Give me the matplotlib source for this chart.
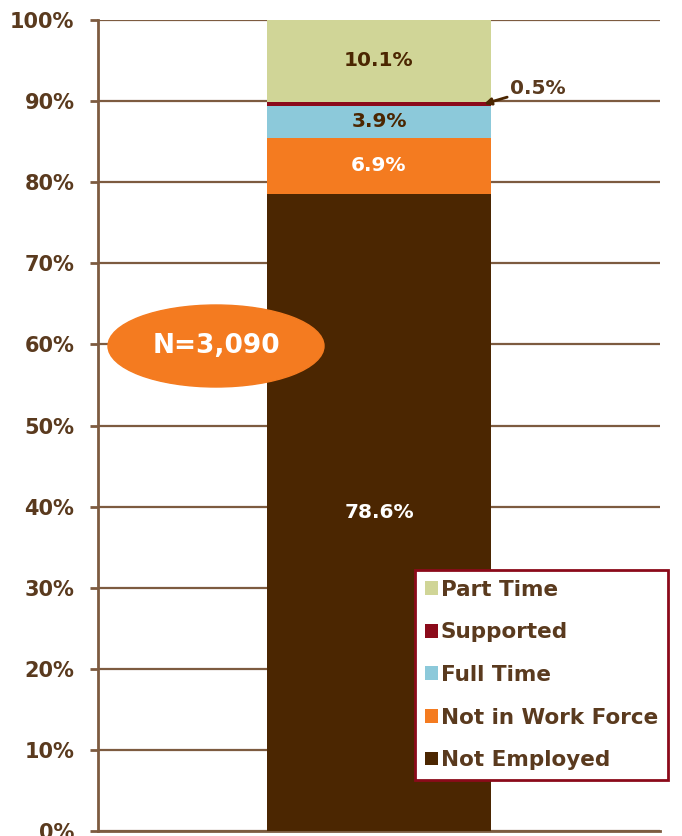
import matplotlib.pyplot as plt
from matplotlib.patches import Ellipse, Patch

# Данные
categories = ['Not Employed', 'Not in Work Force', 'Full Time', 'Supported', 'Part Time']
values = [78.6, 6.9, 3.9, 0.5, 10.1]
colors = ['#4B2601', '#F47B20', '#8CC9DA', '#8B0A1A', '#D0D597']
label_colors = ['white', 'white', '#4B2601', None, '#4B2601']
yticks = list(range(0, 101, 10))

brown = '#5A3A1E'
grid_c = '#7D5B40'

fig = plt.figure(figsize=(6.82, 8.36), dpi=100)
ax = fig.add_axes([98 / 682, 1 - 831 / 836, 562 / 682, 811 / 836])

bottom = 0
for cat, v, c, lc in zip(categories, values, colors, label_colors):
    ax.bar(0.5, v, width=0.4, bottom=bottom, color=c, zorder=3)
    if lc is not None:
        ax.text(0.5, bottom + v / 2, f'{v:.1f}%', ha='center', va='center',
                color=lc, fontsize=14.5, fontweight='bold', zorder=4)
    bottom += v

# подпись для маленького сегмента
sup_y = sum(values[:3]) + values[3] / 2
ax.annotate('0.5%', xy=(0.687, sup_y), xytext=(0.733, 91.6),
            fontsize=14.5, fontweight='bold', color=brown, va='center',
            arrowprops=dict(arrowstyle='-|>', color='#4B2601', lw=2,
                            mutation_scale=10, shrinkA=0, shrinkB=0))

ax.set_xlim(0, 1)
ax.set_ylim(0, 100)
ax.set_yticks(yticks)
ax.set_yticklabels([f'{t}%' for t in yticks])
ax.set_xticks([])
ax.tick_params(axis='y', colors=grid_c, labelcolor=brown, labelsize=15,
               length=6, width=2, pad=11)
for lbl in ax.get_yticklabels():
    lbl.set_fontweight('bold')
ax.grid(axis='y', color=grid_c, linewidth=1.6, zorder=1)
for s in ['top', 'right']:
    ax.spines[s].set_visible(False)
ax.spines['left'].set_color(grid_c)
ax.spines['left'].set_linewidth(2)
ax.spines['bottom'].set_color(grid_c)
ax.spines['bottom'].set_linewidth(2)

# N
ell = Ellipse((216 / 682, 1 - 346 / 836), 216 / 682, 82 / 836,
              transform=fig.transFigure, color='#F47B20', zorder=5)
fig.patches.append(ell)
fig.text(216 / 682, 1 - 346 / 836, 'N=3,090', ha='center', va='center',
         color='white', fontsize=19, fontweight='bold', zorder=6)

handles = [Patch(facecolor=c, label=cat) for cat, c in zip(categories, colors)][::-1]
leg = fig.legend(handles=handles, loc='upper left',
                 bbox_to_anchor=(415 / 682, 1 - 570 / 836),
                 frameon=True, fancybox=False, framealpha=1,
                 edgecolor='#8B0A1A', handlelength=0.6, handleheight=0.6,
                 handletextpad=0.15, labelspacing=1.05, borderpad=0.45,
                 borderaxespad=0, prop={'weight': 'bold', 'size': 15.5})
leg.get_frame().set_linewidth(2)
for t in leg.get_texts():
    t.set_color(brown)

plt.savefig('out.png', dpi=100)
